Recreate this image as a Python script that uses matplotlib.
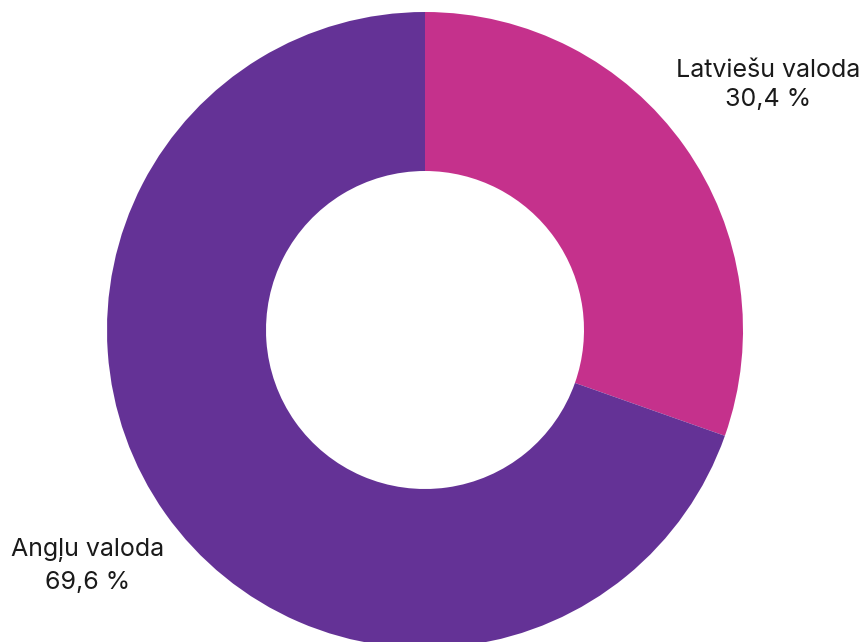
import matplotlib.pyplot as plt

labels = ['Latviešu valoda', 'Angļu valoda']
shares = [30.4, 69.6]
colors = ['#C5318C', '#643296']

plt.rcParams['font.family'] = ['Inter', 'DejaVu Sans']

W, H = 865, 642
fig = plt.figure(figsize=(W / 100, H / 100), dpi=100)
ax = fig.add_axes([0, 0, 1, 1])
ax.set_xlim(0, W)
ax.set_ylim(0, H)
ax.set_aspect('equal')
ax.axis('off')

radius = 318
ax.pie(shares, colors=colors, startangle=90, counterclock=False,
       center=(425, H - 330), radius=radius,
       wedgeprops=dict(width=radius / 2, linewidth=0))

# label centre and line spacing for each slice
label_pos = [(768, H - 85, 1.3), (88, H - 566, 1.5)]
for name, share, (x, y, ls) in zip(labels, shares, label_pos):
    txt = '{}\n{} %'.format(name, '{:.1f}'.format(share).replace('.', ','))
    ax.text(x, y, txt, ha='center', va='center', fontsize=18,
            color='#1a1a1a', linespacing=ls)

ax.set_xlim(0, W)
ax.set_ylim(0, H)
fig.savefig('out.png', dpi=100, facecolor='white')
